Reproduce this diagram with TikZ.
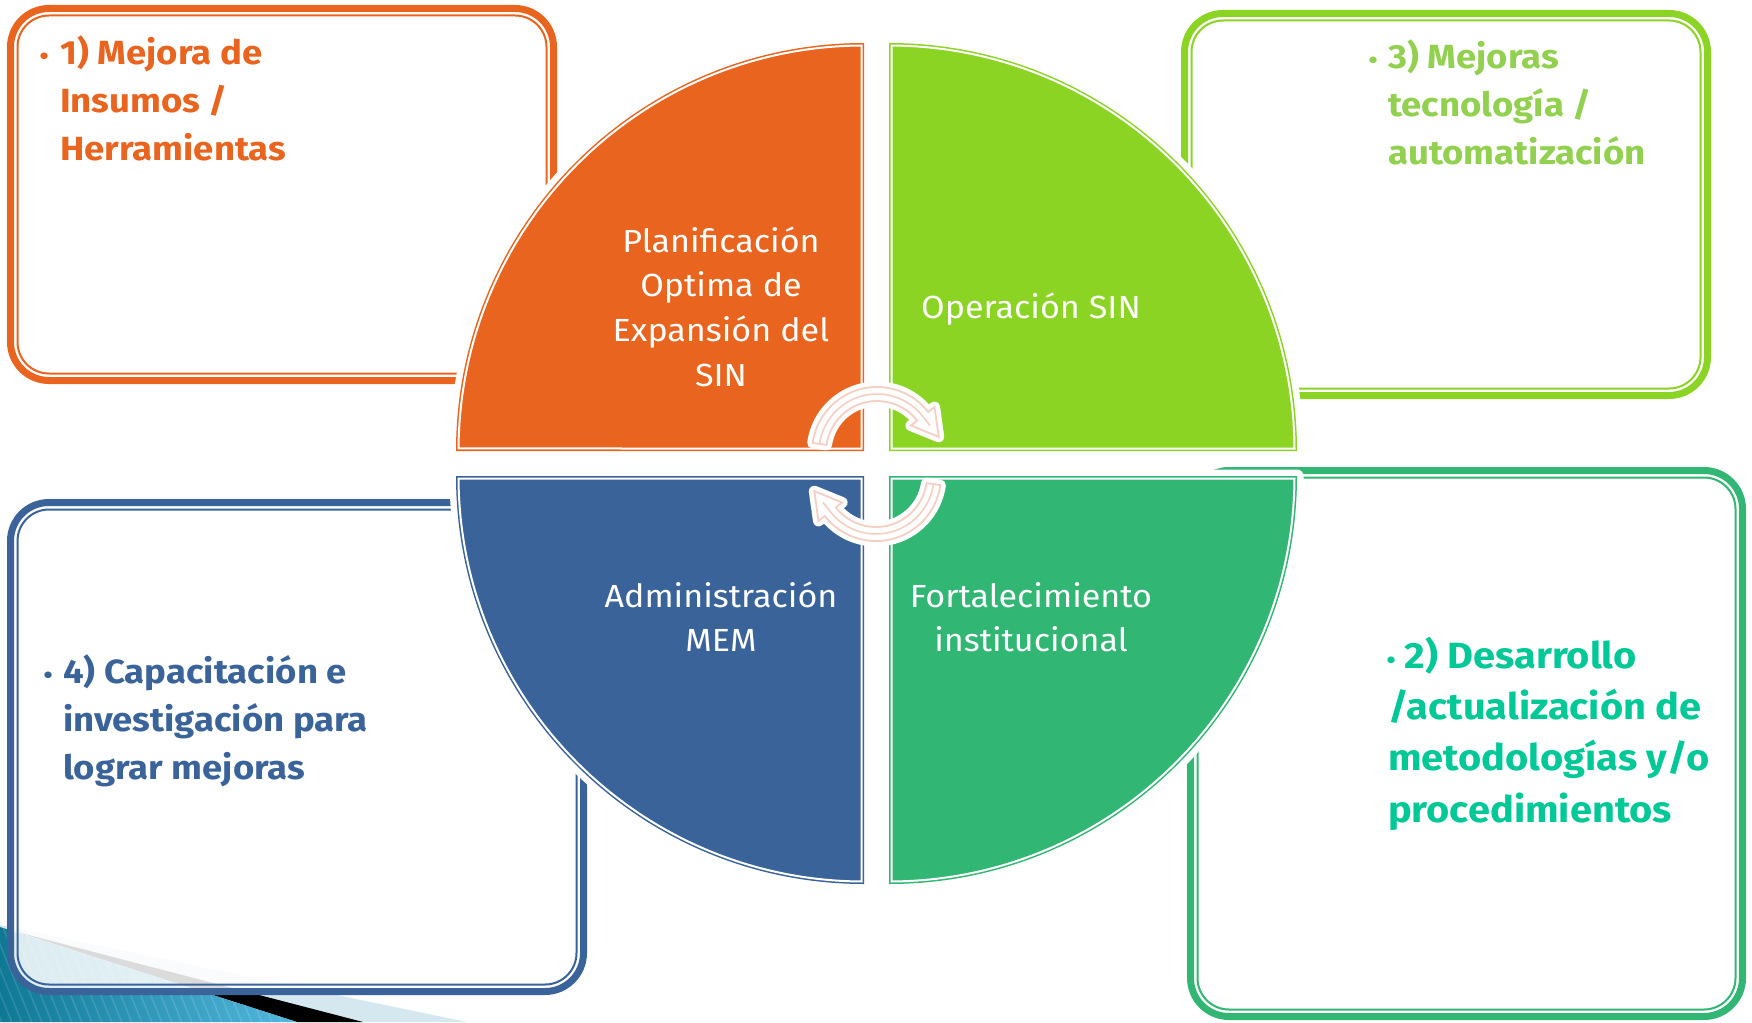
\documentclass[tikz,border=0pt]{standalone}
\usepackage{fontspec}
\setmainfont{Fira Sans}
\newfontfamily\qfont{Fira Sans}[FakeStretch=1.065]
\newfontfamily\bfont{Fira Sans}[FakeStretch=1.09]
\usetikzlibrary{calc}
\definecolor{cOr}{HTML}{E9641F}
\definecolor{cGr}{HTML}{8BD424}
\definecolor{cTe}{HTML}{31B673}
\definecolor{cBl}{HTML}{3A6399}
\definecolor{tGr}{HTML}{92D050}
\definecolor{tTe}{HTML}{00C896}
\definecolor{cPk}{HTML}{F5CFC4}
\definecolor{swTeal}{HTML}{0F7895}
\definecolor{swTealB}{HTML}{52B8DE}
\definecolor{swLight}{HTML}{D5E8EF}
\newcommand{\dblbox}[5]{%
  \draw[#5, line width=7, fill=white, fill opacity=0.86, rounded corners=38.5] (#1+3.5,-#2-3.5) rectangle (#3-3.5,-#4+3.5);
  \draw[#5, line width=2, rounded corners=31.5] (#1+10.5,-#2-10.5) rectangle (#3-10.5,-#4+10.5);
}
\newcommand{\qpath}{(0,0) -- (408,0) arc[start angle=0,end angle=90,radius=408] -- cycle}
\newcommand{\qinner}{(2.5,2.5) -- (405.49,2.5) arc[start angle=0.353,end angle=89.647,radius=405.5] -- cycle}
\newcommand{\quadrant}[4]{%
  \begin{scope}[shift={(#1,-#2)}, rotate=#3]
    \fill[#4] \qpath;
    \draw[white, line width=2] \qinner;
  \end{scope}}
\newcommand{\arrowpath}{(172:65) arc[start angle=172,end angle=38,radius=65] -- (38:73) -- (61.7,15.2) -- (38:43) -- (38:51) arc[start angle=38,end angle=172,radius=51] -- cycle}
\newcommand{\cycarrow}[3]{%
  \begin{scope}[shift={(#1,-#2)}, rotate=#3]
    \draw[white, line width=11, line join=round, fill=white] \arrowpath;
    \draw[cPk, line width=1.8] \arrowpath;
    \draw[cPk, line width=1.6] (172:58) arc[start angle=172,end angle=38,radius=58] -- ($(38:58)!0.45!(61.7,15.2)$);
  \end{scope}}
\newcommand{\lnC}[1]{\hbox to 0pt{\hss#1\hss}}
\newcommand{\lnL}[1]{\hbox{#1}}
\newcommand{\bul}[1]{\llap{\hbox to 0pt{\hss{\fontsize{24}{24}\selectfont •}\hss}\kern#1pt}}
\tikzset{
  qtext/.style={anchor=base, inner sep=0, text=white, font=\qfont\fontsize{32}{44.7}\selectfont},
  btext/.style={anchor=base west, inner sep=0, font=\bfont\bfseries\fontsize{33.5}{48}\selectfont},
}
\begin{document}
\begin{tikzpicture}[x=1pt,y=1pt]
\useasboundingbox (0,0) rectangle (1752,-1022);
\fill[white] (0,0) rectangle (1752,-1022);
% bottom-left decoration
\fill[swLight] (0,-925) -- (467,-1022) -- (0,-1022) -- cycle;
\fill[black] (17,-932) -- (363,-1022) -- (297,-1022) -- cycle;
\shade[left color=swTeal, right color=swTealB] (0,-927) -- (297,-1022) -- (0,-1022) -- cycle;
\begin{scope}
  \clip (0,-927) -- (297,-1022) -- (0,-1022) -- cycle;
  \foreach \i in {-120,-110,...,300} \draw[white, opacity=0.13, line width=1.5] (\i,-920) -- (\i+45,-1030);
\end{scope}
% text boxes
\dblbox{7}{5}{557}{384}{cOr}
\dblbox{1181}{10}{1711}{399}{cGr}
\dblbox{7}{499}{587}{995}{cBl}
\dblbox{1187}{467}{1746}{1020}{cTe}
% white halos around quadrants
\foreach \px/\py/\rot in {889/451/0, 864/451/90, 864/476/180, 889/476/270}{
  \begin{scope}[shift={(\px,-\py)}, rotate=\rot]
    \draw[white, line width=13, line join=round, fill=white] \qpath;
  \end{scope}}
% quadrants
\quadrant{889}{451}{0}{cGr}
\quadrant{864}{451}{90}{cOr}
\quadrant{864}{476}{180}{cBl}
\quadrant{889}{476}{270}{cTe}
% cycle arrows
\cycarrow{877}{452}{0}
\cycarrow{876}{476}{180}
% quadrant texts
\node[qtext] (plan) at (721,-252) {\vtop{\lnC{Planificación}\lnC{Optima de}\lnC{Expansión del}\lnC{SIN}}};
\node[qtext] (oper) at (1031,-318) {\vtop{\lnC{Operación SIN}}};
\node[qtext] (admin) at (721,-607) {\vtop{\lnC{Administración}\lnC{MEM}}};
\node[qtext] (fort) at (1031,-607) {\vtop{\lnC{Fortalecimiento}\lnC{institucional}}};
% box texts
\node[btext, text=cOr] (t1) at (60,-65) {\vtop{\lnL{\bul{16}1) Mejora de}\lnL{Insumos /}\lnL{Herramientas}}};
\node[btext, text=tGr] (t3) at (1388,-69) {\vtop{\lnL{\bul{15}3) Mejoras}\lnL{tecnología /}\lnL{automatización}}};
\node[btext, text=cBl] (t4) at (63,-683) {\vtop{\lnL{\bul{15}4) Capacitación e}\lnL{investigación para}\lnL{lograr mejoras}}};
\node[btext, text=tTe, font=\bfont\bfseries\fontsize{36.5}{51.4}\selectfont] (t2) at (1388,-668) {\vtop{\lnL{\kern16.5pt\bul{13.5}2) Desarrollo}\lnL{/actualización de}\lnL{metodologías y/o}\lnL{procedimientos}}};
\end{tikzpicture}
\end{document}
